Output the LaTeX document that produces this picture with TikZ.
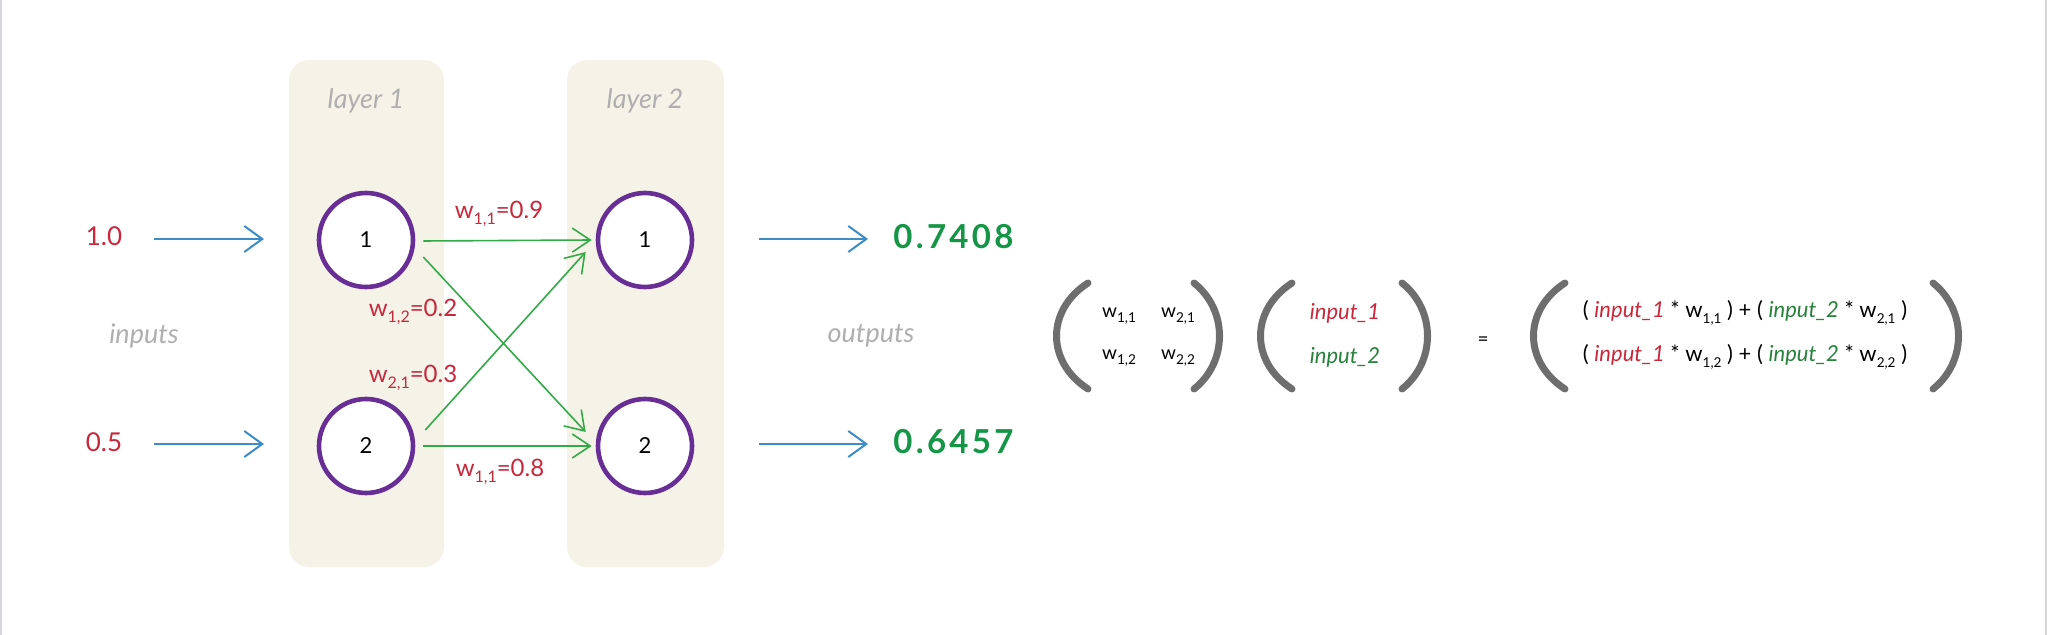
\documentclass[tikz,border=0pt]{standalone}
\usepackage{fontspec}
\setmainfont{Lato}
\newfontfamily\outfont[LetterSpace=10]{Lato}
\usetikzlibrary{arrows.meta,calc}
\definecolor{boxfill}{RGB}{245,243,232}
\definecolor{ringpurple}{RGB}{105,45,150}
\definecolor{inred}{RGB}{200,40,60}
\definecolor{matgreen}{RGB}{40,130,60}
\definecolor{outgreen}{RGB}{20,150,70}
\definecolor{arrblue}{RGB}{60,140,200}
\definecolor{arrgreen}{RGB}{50,170,70}
\definecolor{labgray}{RGB}{175,175,175}
\definecolor{pargray}{RGB}{110,110,110}
\definecolor{framegray}{RGB}{215,215,220}
\newcommand\wsb[1]{\raisebox{-0.55ex}{\fontsize{8}{9}\selectfont #1}}
\newcommand\msb[1]{\raisebox{-0.5ex}{\fontsize{6.8}{7}\selectfont #1}}
\begin{document}
\begin{tikzpicture}[x=0.5pt,y=-0.5pt,
  layerbox/.style={fill=boxfill,draw=none,rounded corners=10pt},
  neuron/.style={circle,draw=ringpurple,line width=2.3pt,fill=white,minimum size=47pt,inner sep=0pt,font=\fontsize{11}{13}\selectfont},
  graylab/.style={text=labgray,font=\itshape\fontsize{13.5}{15}\selectfont},
  inval/.style={text=inred,font=\fontsize{13}{15}\selectfont},
  wlab/.style={text=inred,font=\fontsize{12}{14}\selectfont,inner sep=0pt},
  outval/.style={text=outgreen,font=\outfont\bfseries\fontsize{16.5}{18}\selectfont,anchor=west,inner sep=0pt},
  inarrow/.style={draw=arrblue,line width=1pt,-{Straight Barb[length=9pt,width=13pt,line width=1pt]}},
  warrow/.style={draw=arrgreen,line width=0.8pt,-{Straight Barb[length=9pt,width=12pt,line width=0.8pt]}},
  paren/.style={draw=pargray,line width=3.5pt,line cap=round},
  ment/.style={font=\fontsize{9.5}{11}\selectfont,inner sep=0pt},
  minp/.style={font=\itshape\fontsize{11}{13}\selectfont,inner sep=0pt},
  mrow/.style={font=\fontsize{11}{13}\selectfont,inner sep=0pt}
]
\useasboundingbox (0,0) rectangle (2048,635);
\fill[white] (0,0) rectangle (2048,635);
\draw[framegray,line width=0.6pt] (1,0) -- (1,635);
\draw[framegray,line width=0.6pt] (2046,0) -- (2046,635);

% layer boxes
\fill[layerbox] (289,60) rectangle (444,567);
\fill[layerbox] (567,60) rectangle (724,567);
\node[graylab] (lay1) at (366,101) {layer 1};
\node[graylab] (lay2) at (645,101) {layer 2};

% neurons
\node[neuron] (L1) at (366,240) {1};
\node[neuron] (L2) at (366,446) {2};
\node[neuron] (R1) at (645,240) {1};
\node[neuron] (R2) at (645,446) {2};

% inputs
\node[inval] (in1) at (104,236) {1.0};
\node[inval] (in2) at (104,442) {0.5};
\node[graylab] (inputs) at (144,336) {inputs};
\node[graylab] (outputs) at (871,336) {outputs};

\coordinate (ia1) at (154,239);
\coordinate (ib1) at (264,239);
\coordinate (ia2) at (154,444);
\coordinate (ib2) at (264,444);
\draw[inarrow] (ia1) -- (ib1);
\draw[inarrow] (ia2) -- (ib2);

\coordinate (oa1) at (759,239);
\coordinate (ob1) at (868,239);
\coordinate (oa2) at (759,444);
\coordinate (ob2) at (868,444);
\draw[inarrow] (oa1) -- (ob1);
\draw[inarrow] (oa2) -- (ob2);

% outputs
\node[outval] (out1) at (893,237) {0.7408};
\begin{scope}
\clip (880,400) rectangle (1017,490);
\node[outval] (out2) at (893,442) {0.6457};
\end{scope}

% weight connections
\draw[warrow] ($(L1.east)+(8,1)$) -- ($(R1.west)+(-4,0)$);
\draw[warrow] ($(L2.east)+(8,0)$) -- ($(R2.west)+(-4,0)$);
\draw[warrow] ($(L1.east)+(8,17)$) -- ($(R2.west)+(-10,-14)$);
\draw[warrow] ($(L2.east)+(10,-16)$) -- ($(R1.west)+(-10,12)$);

% weight labels
\node[wlab] (w11) at (499,214) {w\wsb{1,1}=0.9};
\node[wlab] (w12) at (413,312) {w\wsb{1,2}=0.2};
\node[wlab] (w21) at (413,378) {w\wsb{2,1}=0.3};
\node[wlab] (w22) at (500,472) {w\wsb{1,1}=0.8};

% matrix 1
\draw[paren] (1088,283) .. controls (1046,310) and (1046,362) .. (1088,389);
\draw[paren] (1194,283) .. controls (1228,310) and (1228,362) .. (1194,389);
\node[ment] (m11) at (1119,316) {w\msb{1,1}};
\node[ment] (m21) at (1178,316) {w\msb{2,1}};
\node[ment] (m12) at (1119,358) {w\msb{1,2}};
\node[ment] (m22) at (1178,358) {w\msb{2,2}};

% matrix 2
\draw[paren] (1292,283) .. controls (1250,310) and (1250,362) .. (1292,389);
\draw[paren] (1402,283) .. controls (1436,310) and (1436,362) .. (1402,389);
\node[minp,text=inred] (inp1) at (1345,313) {input\_1};
\node[minp,text=matgreen] (inp2) at (1345,357) {input\_2};

\node[ment] (eq) at (1483,341) {=};

% matrix 3
\draw[paren] (1565,283) .. controls (1523,310) and (1523,362) .. (1565,389);
\draw[paren] (1933,283) .. controls (1967,310) and (1967,362) .. (1933,389);
\node[mrow] (row1) at (1745,313) {( \textcolor{inred}{\itshape input\_1} * w\msb{1,1} ) + ( \textcolor{matgreen}{\itshape input\_2} * w\msb{2,1} )};
\node[mrow] (row2) at (1745,357) {( \textcolor{inred}{\itshape input\_1} * w\msb{1,2} ) + ( \textcolor{matgreen}{\itshape input\_2} * w\msb{2,2} )};
\end{tikzpicture}
\end{document}
